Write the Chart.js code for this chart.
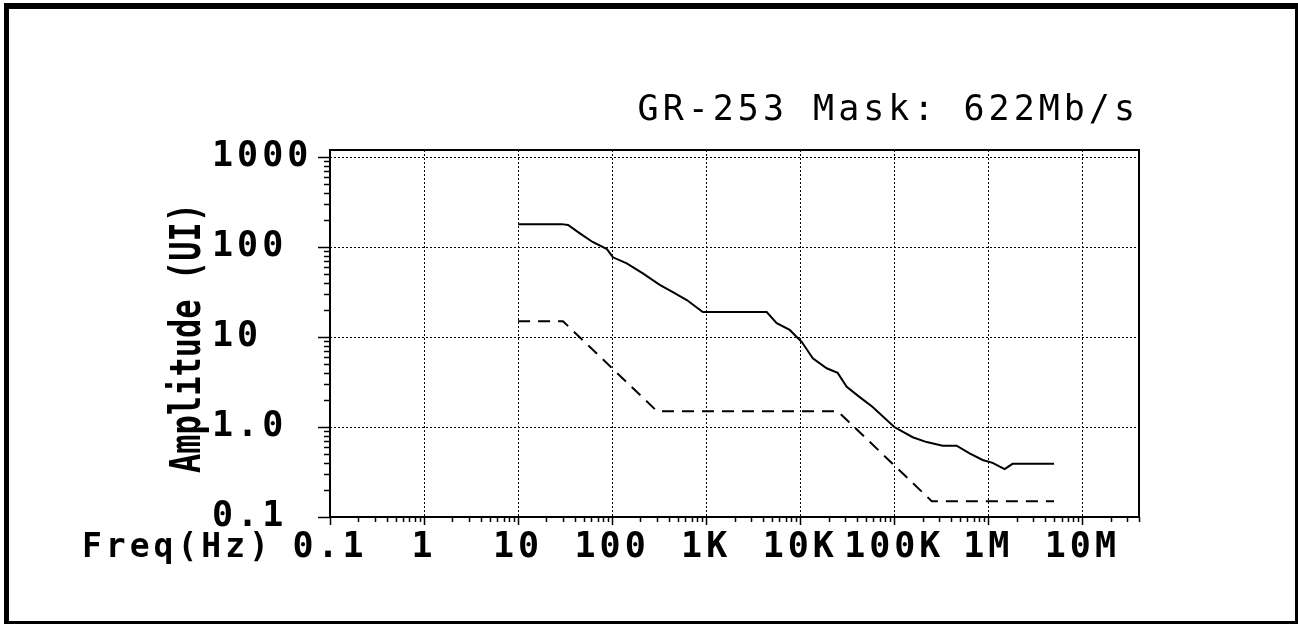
<!DOCTYPE html>
<html>
<head>
<meta charset="utf-8">
<title>GR-253 Mask: 622Mb/s</title>
<script src="https://cdn.jsdelivr.net/npm/chart.js@4.4.1/dist/chart.umd.min.js"></script>
<style>
html, body { margin: 0; padding: 0; background: #fff; }
canvas { position: absolute; left: 0; top: 0; }
#frame { position: absolute; left: 4px; top: 3px; width: 1294px; height: 621px; box-sizing: border-box;
	border-style: solid; border-color: #000; border-width: 6px 3px 3px 5px; pointer-events: none; }
</style>
</head>
<body>
<canvas id="jitterChart" width="1298" height="624"></canvas>
<div id="frame"></div>
<script>
// instrument limit (solid)
var limitFreq = [10, 29, 34, 45, 62, 88, 102, 143, 212, 321, 442, 622, 920, 4400, 5620, 7730, 10400, 13600, 19100, 25000, 31200, 42900, 58900, 100000, 157000, 221000, 327000, 460000, 632000, 869000, 1110000, 1490000, 1810000, 5000000];
var limitAmp = [180, 180, 176, 143, 114, 95, 77, 66, 51, 38, 31.6, 25.8, 19, 19, 14.3, 12, 8.8, 5.8, 4.5, 4.0, 2.8, 2.15, 1.67, 1.0, 0.77, 0.68, 0.62, 0.62, 0.51, 0.43, 0.40, 0.34, 0.39, 0.39];
// GR-253 mask (dashed)
var maskFreq = [10, 30, 300, 25000, 250000, 5000000];
var maskAmp = [15, 15, 1.5, 1.5, 0.15, 0.15];

var xTickValues = [0.1, 1, 10, 100, 1e3, 1e4, 1e5, 1e6, 1e7];
var xTickLabels = ['0.1', '1', '10', '100', '1K', '10K', '100K', '1M', '10M'];
var yTickValues = [0.1, 1, 10, 100, 1000];
var yTickLabels = ['0.1', '1.0', '10', '100', '1000'];

function isDecade(v) {
	var l = Math.log10(v);
	return Math.abs(l - Math.round(l)) < 1e-6;
}
function isStep(v) {
	var e = Math.floor(Math.log10(v) + 1e-9);
	var m = v / Math.pow(10, e);
	return Math.abs(m - Math.round(m)) < 1e-6;
}
function logTicks(decades, max) {
	var ticks = [];
	for (var i = 0; i < decades.length; i++) {
		for (var m = 1; m <= 9; m++) {
			var v = parseFloat((decades[i] * m).toPrecision(6));
			if (v <= max) ticks.push({value: v});
		}
	}
	return ticks;
}
function labelFor(values, labels, v) {
	for (var i = 0; i < values.length; i++) {
		if (Math.abs(values[i] - v) / values[i] < 1e-6) return labels[i];
	}
	return '';
}
function points(xs, ys) {
	return xs.map(function(x, i) { return {x: x, y: ys[i]}; });
}
function gridColor(c) {
	return c.tick && isDecade(c.tick.value) ? '#000' : 'rgba(0,0,0,0)';
}

var tickFont = {family: 'DejaVu Sans Mono', size: 35, weight: 'bold', lineHeight: 1};

var spacingPlugin = {
	id: 'spacing',
	beforeDraw: function(chart) { chart.ctx.letterSpacing = '4px'; }
};

var framePlugin = {
	id: 'frame',
	afterDraw: function(chart) {
		var ctx = chart.ctx, a = chart.chartArea;
		var xs = chart.scales.x, ys = chart.scales.y;
		ctx.save();
		ctx.strokeStyle = '#000';
		ctx.lineWidth = 1.5;
		ys.ticks.forEach(function(t) {
			if (!isStep(t.value)) return;
			var y = Math.round(ys.getPixelForValue(t.value)) + 0.5;
			var len = isDecade(t.value) ? 12 : 6;
			ctx.beginPath(); ctx.moveTo(a.left - len, y); ctx.lineTo(a.left, y); ctx.stroke();
		});
		xs.ticks.forEach(function(t) {
			if (!isStep(t.value)) return;
			var x = Math.round(xs.getPixelForValue(t.value)) + 0.5;
			var len = isDecade(t.value) ? 8 : 5;
			ctx.beginPath(); ctx.moveTo(x, a.bottom); ctx.lineTo(x, a.bottom + len); ctx.stroke();
		});
		ctx.lineWidth = 2;
		ctx.strokeRect(a.left, a.top, a.right - a.left, a.bottom - a.top);

		ctx.fillStyle = '#000';
		ctx.textBaseline = 'middle';
		ctx.textAlign = 'left';
		ctx.font = 'bold 33px "DejaVu Sans Mono"';
		ctx.letterSpacing = '4px';
		ctx.fillText('Freq(Hz)', 82, 548);

		ctx.translate(189, 338);
		ctx.rotate(-Math.PI / 2);
		ctx.scale(0.745, 1);
		ctx.letterSpacing = '0px';
		ctx.textAlign = 'center';
		ctx.font = 'bold 43px "DejaVu Sans Mono"';
		ctx.fillText('Amplitude (UI)', 0, 0);
		ctx.restore();
	}
};

new Chart('jitterChart', {
	type: 'line',
	data: {
		datasets: [{
			data: points(limitFreq, limitAmp),
			borderColor: '#000',
			borderWidth: 2,
			pointRadius: 0,
			fill: false,
			tension: 0
		}, {
			data: points(maskFreq, maskAmp),
			borderColor: '#000',
			borderWidth: 2,
			borderDash: [12, 8],
			pointRadius: 0,
			fill: false,
			tension: 0
		}]
	},
	options: {
		responsive: false,
		animation: false,
		layout: {padding: {left: 212, right: 159, top: 0, bottom: 0}},
		plugins: {
			legend: {display: false},
			tooltip: {enabled: false},
			title: {
				display: true,
				text: 'GR-253 Mask: 622Mb/s',
				align: 'end',
				color: '#000',
				font: {family: 'DejaVu Sans Mono', size: 35, weight: 'normal', lineHeight: 1},
				padding: {top: 93, bottom: 22}
			}
		},
		scales: {
			x: {
				type: 'logarithmic',
				min: 0.1,
				max: 4e7,
				afterBuildTicks: function(s) { s.ticks = logTicks(xTickValues, 4e7); },
				afterFit: function(s) { s.height = 107; },
				grid: {color: gridColor, lineWidth: 1, drawTicks: false},
				border: {display: false, dash: [2, 2]},
				ticks: {
					autoSkip: false, maxRotation: 0, minRotation: 0, padding: 13,
					color: '#000', font: tickFont,
					callback: function(v) { return labelFor(xTickValues, xTickLabels, v); }
				}
			},
			y: {
				type: 'logarithmic',
				min: 0.1,
				max: 1200,
				afterBuildTicks: function(s) { s.ticks = logTicks(yTickValues, 1200); },
				afterFit: function(s) { s.width = 118; },
				grid: {color: gridColor, lineWidth: 1, drawTicks: false},
				border: {display: false, dash: [2, 2]},
				ticks: {
					autoSkip: false, crossAlign: 'far', padding: 10,
					color: '#000', font: tickFont,
					callback: function(v) { return labelFor(yTickValues, yTickLabels, v); }
				}
			}
		}
	},
	plugins: [spacingPlugin, framePlugin]
});
</script>
</body>
</html>
